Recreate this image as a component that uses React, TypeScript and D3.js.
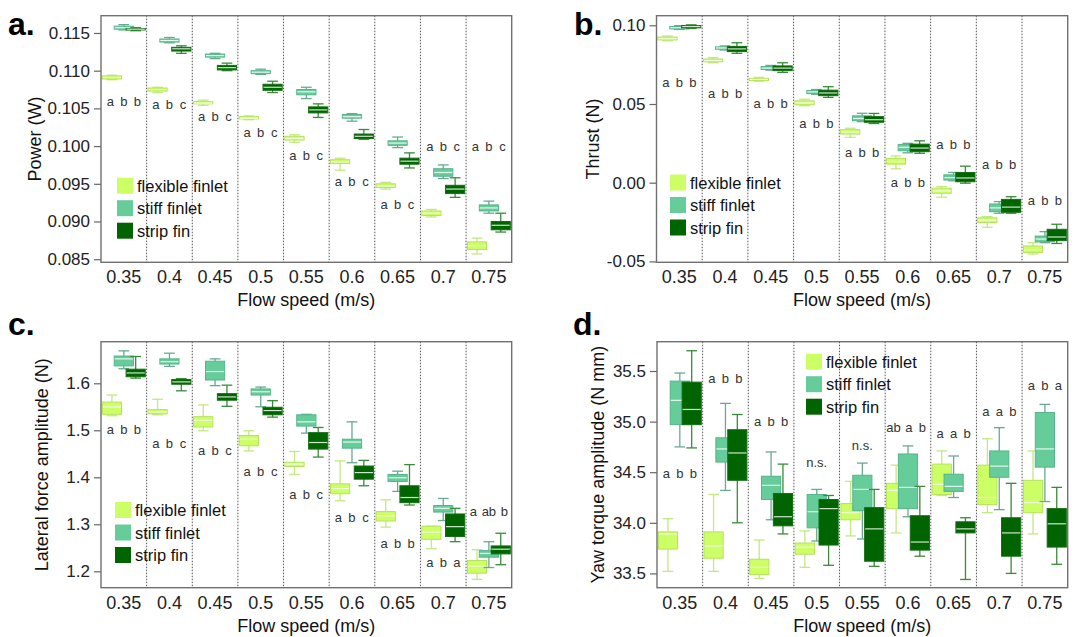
import * as d3 from "d3";
import { useEffect, useRef } from "react";

const speeds = ["0.35", "0.4", "0.45", "0.5", "0.55", "0.6", "0.65", "0.7", "0.75"];
const groups = ["flexible finlet", "stiff finlet", "strip fin"];
const fills = ["#ccff66", "#66cc99", "#006400"];
const borders = ["#b5e35a", "#55b48c", "#136f13"];
const whiskers = ["#c3e884", "#6aa894", "#3a8a3a"];
const medians = ["#f4ffe0", "#e6f7ee", "#cfe6cf"];

// each box: [low whisker, q1, median, q3, high whisker]
const powerFlexible = [
  [0.1088, 0.1089, 0.1091, 0.1093, 0.1094],
  [0.1071, 0.1073, 0.1075, 0.1077, 0.1078],
  [0.1054, 0.1056, 0.1057, 0.1059, 0.1061],
  [0.1035, 0.1036, 0.1037, 0.1039, 0.104],
  [0.1005, 0.1008, 0.101, 0.1013, 0.1015],
  [0.0968, 0.0977, 0.0979, 0.0982, 0.0984],
  [0.0943, 0.0945, 0.0947, 0.095, 0.0952],
  [0.0906, 0.0908, 0.0911, 0.0914, 0.0916],
  [0.0857, 0.0863, 0.0868, 0.0873, 0.0878],
];
const powerStiff = [
  [0.1154, 0.1155, 0.1157, 0.1159, 0.1161],
  [0.1137, 0.1138, 0.114, 0.1142, 0.1144],
  [0.1116, 0.1118, 0.112, 0.1122, 0.1123],
  [0.1095, 0.1096, 0.1098, 0.11, 0.1102],
  [0.1063, 0.1068, 0.1072, 0.1075, 0.1078],
  [0.1033, 0.1037, 0.1039, 0.1042, 0.1043],
  [0.0998, 0.1001, 0.1004, 0.1007, 0.1012],
  [0.0957, 0.096, 0.0965, 0.097, 0.0975],
  [0.0911, 0.0914, 0.0918, 0.0922, 0.0927],
];
const powerStrip = [
  [0.1153, 0.1154, 0.1155, 0.1156, 0.1157],
  [0.1123, 0.1126, 0.1129, 0.1131, 0.1133],
  [0.11, 0.1101, 0.1104, 0.1107, 0.111],
  [0.1071, 0.1074, 0.1078, 0.1082, 0.1086],
  [0.1038, 0.1044, 0.1048, 0.1052, 0.1056],
  [0.1009, 0.101, 0.1013, 0.1016, 0.1022],
  [0.0971, 0.0976, 0.098, 0.0984, 0.0991],
  [0.0932, 0.0937, 0.0943, 0.0948, 0.0958],
  [0.0886, 0.0889, 0.0895, 0.09, 0.0911],
];
const powerTicks = [0.085, 0.09, 0.095, 0.1, 0.105, 0.11, 0.115];
const powerLetters = ["a b b", "a b c", "a b c", "a b c", "a b c", "a b c", "a b c", "a b c", "a b c"];
const powerLetterY = [0.1059, 0.1055, 0.1039, 0.1018, 0.0987, 0.0953, 0.0922, 0.0999, 0.0999];

const thrustFlexible = [
  [0.0902, 0.0907, 0.0915, 0.0925, 0.0932],
  [0.0762, 0.0768, 0.0776, 0.0786, 0.0795],
  [0.0645, 0.0649, 0.0656, 0.0663, 0.0669],
  [0.0489, 0.0495, 0.0507, 0.052, 0.053],
  [0.0288, 0.0309, 0.0322, 0.0337, 0.0346],
  [0.0088, 0.0118, 0.0135, 0.0155, 0.017],
  [-0.0092, -0.0067, -0.0052, -0.0035, -0.0025],
  [-0.0283, -0.0253, -0.0238, -0.0223, -0.0215],
  [-0.0453, -0.0443, -0.0425, -0.0402, -0.0381],
];
const thrustStiff = [
  [0.0974, 0.0977, 0.0985, 0.0992, 0.0998],
  [0.0843, 0.0848, 0.0856, 0.0863, 0.0869],
  [0.0715, 0.0719, 0.0728, 0.0738, 0.0745],
  [0.0562, 0.0566, 0.0577, 0.0586, 0.0592],
  [0.0388, 0.0394, 0.0408, 0.0425, 0.0441],
  [0.019, 0.0203, 0.0225, 0.0243, 0.025],
  [0.0012, 0.0017, 0.0032, 0.005, 0.0065],
  [-0.0194, -0.0184, -0.016, -0.0135, -0.012],
  [-0.0381, -0.0375, -0.0358, -0.0339, -0.0311],
];
const thrustStrip = [
  [0.098, 0.0984, 0.0992, 0.0998, 0.1003],
  [0.0822, 0.0833, 0.085, 0.0866, 0.0889],
  [0.0701, 0.0712, 0.0728, 0.0742, 0.0762],
  [0.0542, 0.0553, 0.057, 0.0588, 0.061],
  [0.0376, 0.0384, 0.04, 0.042, 0.044],
  [0.0187, 0.0197, 0.022, 0.0245, 0.0266],
  [-0.0003, 0.0006, 0.003, 0.0065, 0.0105],
  [-0.0194, -0.0188, -0.0155, -0.0106, -0.0089],
  [-0.0386, -0.0368, -0.0345, -0.0296, -0.0264],
];
const thrustTicks = [-0.05, 0, 0.05, 0.1];
const thrustLetters = ["a b b", "a b b", "a b b", "a b b", "a b b", "a b b", "a b b", "a b b", "a b b"];
const thrustLetterY = [0.0635, 0.0568, 0.0504, 0.0377, 0.0191, 0.0, 0.0244, 0.0119, -0.011];

const lateralFlexible = [
  [1.531, 1.534, 1.55, 1.56, 1.575],
  [1.533, 1.535, 1.539, 1.544, 1.566],
  [1.499, 1.507, 1.521, 1.529, 1.554],
  [1.456, 1.467, 1.481, 1.489, 1.499],
  [1.406, 1.423, 1.428, 1.432, 1.455],
  [1.35, 1.365, 1.376, 1.386, 1.435],
  [1.294, 1.307, 1.318, 1.327, 1.352],
  [1.248, 1.268, 1.283, 1.296, 1.296],
  [1.183, 1.196, 1.211, 1.223, 1.246],
];
const lateralStiff = [
  [1.631, 1.637, 1.652, 1.658, 1.669],
  [1.636, 1.641, 1.646, 1.652, 1.664],
  [1.595, 1.607, 1.625, 1.647, 1.652],
  [1.55, 1.575, 1.582, 1.588, 1.592],
  [1.494, 1.509, 1.518, 1.533, 1.534],
  [1.431, 1.462, 1.475, 1.481, 1.518],
  [1.37, 1.391, 1.399, 1.406, 1.413],
  [1.308, 1.326, 1.334, 1.34, 1.355],
  [1.208, 1.23, 1.238, 1.244, 1.263],
];
const lateralStrip = [
  [1.611, 1.614, 1.622, 1.63, 1.657],
  [1.584, 1.598, 1.603, 1.608, 1.61],
  [1.551, 1.564, 1.571, 1.578, 1.596],
  [1.528, 1.533, 1.542, 1.549, 1.563],
  [1.443, 1.46, 1.474, 1.495, 1.506],
  [1.382, 1.396, 1.41, 1.424, 1.436],
  [1.341, 1.346, 1.357, 1.382, 1.427],
  [1.263, 1.274, 1.295, 1.322, 1.334],
  [1.214, 1.237, 1.247, 1.254, 1.281],
];
const lateralTicks = [1.2, 1.3, 1.4, 1.5, 1.6];
const lateralLetters = ["a b b", "a b c", "a b c", "a b c", "a b c", "a b c", "a b b", "a b a", "a ab b"];
const lateralLetterY = [1.501, 1.472, 1.457, 1.412, 1.364, 1.314, 1.26, 1.218, 1.328];

const yawFlexible = [
  [33.52, 33.74, 33.89, 33.91, 34.04],
  [33.52, 33.65, 33.77, 33.91, 34.28],
  [33.45, 33.49, 33.56, 33.64, 33.83],
  [33.56, 33.69, 33.76, 33.8, 33.92],
  [33.87, 34.03, 34.1, 34.19, 34.41],
  [33.9, 34.14, 34.32, 34.39, 34.57],
  [34.27, 34.28, 34.38, 34.58, 34.71],
  [34.1, 34.18, 34.25, 34.57, 34.83],
  [33.89, 34.1, 34.2, 34.42, 34.71],
];
const yawStiff = [
  [34.75, 34.97, 35.21, 35.4, 35.48],
  [34.32, 34.6, 34.73, 34.84, 35.18],
  [34.03, 34.23, 34.37, 34.46, 34.7],
  [33.82, 33.95, 34.11, 34.28, 34.33],
  [33.84, 34.12, 34.33, 34.47, 34.59],
  [34.06, 34.14, 34.35, 34.68, 34.76],
  [34.25, 34.31, 34.36, 34.48, 34.66],
  [34.13, 34.45, 34.56, 34.71, 34.94],
  [34.21, 34.55, 34.73, 35.09, 35.17],
];
const yawStrip = [
  [34.74, 34.97, 35.12, 35.39, 35.7],
  [34.0, 34.42, 34.69, 34.92, 35.07],
  [33.89, 33.97, 34.06, 34.29, 34.58],
  [33.58, 33.78, 34.14, 34.23, 34.27],
  [33.57, 33.62, 33.94, 34.15, 34.33],
  [33.67, 33.73, 33.81, 34.07, 34.36],
  [33.44, 33.9, 33.94, 34.01, 34.05],
  [33.5, 33.67, 33.9, 34.05, 34.39],
  [33.59, 33.76, 33.99, 34.14, 34.35],
];
const yawTicks = [33.5, 34.0, 34.5, 35.0, 35.5];
const yawLetters = ["a b b", "a b b", "a b b", "n.s.", "n.s.", "ab a b", "a a b", "a a b", "a b a"];
const yawLetterY = [34.49, 35.43, 35.0, 34.6, 34.76, 34.94, 34.88, 35.1, 35.36];

const FONT = "Liberation Sans, Arial, Helvetica, sans-serif";

const panels = [
  {
    tag: "a.", tagX: 8, tagY: 35, yLabel: "Power (W)", yLabelX: 35,
    series: [powerFlexible, powerStiff, powerStrip], ticks: powerTicks, fmt: ".3f",
    letters: powerLetters, letterY: powerLetterY, domain: [0.08459, 0.11729],
    frame: [101, 511.7, 15.7, 262.3], legend: [117, 185.7, 137],
  },
  {
    tag: "b.", tagX: 574, tagY: 35, yLabel: "Thrust (N)", yLabelX: 592.7,
    series: [thrustFlexible, thrustStiff, thrustStrip], ticks: thrustTicks, fmt: ".2f",
    letters: thrustLetters, letterY: thrustLetterY, domain: [-0.05057, 0.1061],
    frame: [656.5, 1067.7, 15.7, 262.3], legend: [670, 182.5, 690],
  },
  {
    tag: "c.", tagX: 8, tagY: 335, yLabel: "Lateral force amplitude (N)", yLabelX: 41.7,
    series: [lateralFlexible, lateralStiff, lateralStrip], ticks: lateralTicks, fmt: ".1f",
    letters: lateralLetters, letterY: lateralLetterY, domain: [1.1651, 1.6885],
    frame: [101, 511.7, 341.7, 587.7], legend: [115, 510, 135],
  },
  {
    tag: "d.", tagX: 573, tagY: 335, yLabel: "Yaw torque amplitude (N mm)", yLabelX: 597.7,
    series: [yawFlexible, yawStiff, yawStrip], ticks: yawTicks, fmt: ".1f",
    letters: yawLetters, letterY: yawLetterY, domain: [33.3587, 35.7895],
    frame: [657, 1067.7, 341.7, 587.7], legend: [806, 361.7, 826],
  },
];

function drawPanel(svg: any, p: any) {
  const [x0, x1, y0, y1] = p.frame;
  const x = d3.scaleBand().domain(speeds).range([x0, x1]).padding(0);
  const y = d3.scaleLinear().domain(p.domain).range([y1, y0]);
  const bw = x.bandwidth();
  const g = svg.append("g").style("font-family", FONT);

  // dotted separators between speeds
  g.selectAll(".sep")
    .data(speeds.slice(1))
    .enter()
    .append("line")
    .attr("x1", (d) => x(d))
    .attr("x2", (d) => x(d))
    .attr("y1", y0)
    .attr("y2", y1)
    .attr("stroke", "#555")
    .attr("stroke-width", 1)
    .attr("stroke-dasharray", "1.5,1.5");

  const format = d3.format(p.fmt);
  const yAxis = g
    .append("g")
    .attr("transform", "translate(" + x0 + ",0)")
    .call(
      d3.axisLeft(y).tickValues(p.ticks).tickSize(7).tickPadding(4)
        .tickFormat((d: any) => format(d).replace("\u2212", "-"))
    );
  yAxis.select(".domain").remove();
  yAxis.selectAll("line").attr("stroke", "#666").attr("stroke-width", 1.2);
  yAxis.selectAll("text").attr("fill", "#222").style("font-size", "17px").style("font-family", FONT);

  // x labels
  g.selectAll(".xl")
    .data(speeds)
    .enter()
    .append("text")
    .attr("x", (d) => x(d) + bw / 2)
    .attr("y", y1 + 21)
    .attr("text-anchor", "middle")
    .attr("fill", "#222")
    .style("font-size", "18px")
    .text((d) => d);

  g.append("text")
    .attr("x", (x0 + x1) / 2)
    .attr("y", y1 + 44)
    .attr("text-anchor", "middle")
    .attr("fill", "#111")
    .style("font-size", "18px")
    .text("Flow speed (m/s)");

  g.append("text")
    .attr("transform", "translate(" + p.yLabelX + "," + (y0 + y1) / 2 + ") rotate(-90)")
    .attr("text-anchor", "middle")
    .attr("dominant-baseline", "central")
    .attr("fill", "#111")
    .style("font-size", "18px")
    .text(p.yLabel);

  g.append("text")
    .attr("x", p.tagX)
    .attr("y", p.tagY)
    .attr("fill", "#000")
    .style("font-size", "32px")
    .style("font-weight", "bold")
    .text(p.tag);

  // boxes
  p.series.forEach((rows: number[][], gi: number) => {
    const w = bw * 0.42;
    const cx = (i: number) => x(speeds[i]) + bw * (0.5 + (gi - 1) * 0.26);
    const bg = g.append("g");
    const box = bg.selectAll(".b" + gi).data(rows).enter().append("g");
    box.append("line")
      .attr("x1", (d, i) => cx(i)).attr("x2", (d, i) => cx(i))
      .attr("y1", (d) => y(d[0])).attr("y2", (d) => y(d[4]))
      .attr("stroke", whiskers[gi]).attr("stroke-width", 1.3);
    [0, 4].forEach((k) => {
      box.append("line")
        .attr("x1", (d, i) => cx(i) - w * 0.28).attr("x2", (d, i) => cx(i) + w * 0.28)
        .attr("y1", (d) => y(d[k])).attr("y2", (d) => y(d[k]))
        .attr("stroke", whiskers[gi]).attr("stroke-width", 1.3);
    });
    box.append("rect")
      .attr("x", (d, i) => cx(i) - w / 2)
      .attr("width", w)
      .attr("y", (d) => y(d[3]))
      .attr("height", (d) => Math.max(1.5, y(d[1]) - y(d[3])))
      .attr("fill", fills[gi])
      .attr("stroke", borders[gi])
      .attr("stroke-width", 1);
    box.append("line")
      .attr("x1", (d, i) => cx(i) - w / 2 + 0.5).attr("x2", (d, i) => cx(i) + w / 2 - 0.5)
      .attr("y1", (d) => y(d[2])).attr("y2", (d) => y(d[2]))
      .attr("stroke", medians[gi]).attr("stroke-width", 1.2);
  });

  // significance letters: tokens spaced by their widths
  const charW = 13 * 0.56;
  p.letters.forEach((s: string, i: number) => {
    const parts = s.split(" ");
    const c = x(speeds[i]) + bw / 2;
    const pos = [0];
    for (let k = 1; k < parts.length; k++) {
      const gap = Math.max(13.5, ((parts[k - 1].length + parts[k].length) * charW) / 2 + 4.5);
      pos.push(pos[k - 1] + gap);
    }
    const mid = (pos[0] + pos[pos.length - 1]) / 2;
    parts.forEach((t, k) => {
      g.append("text")
        .attr("x", c + pos[k] - mid)
        .attr("y", y(p.letterY[i]))
        .attr("dy", "0.35em")
        .attr("text-anchor", "middle")
        .attr("fill", "#333")
        .style("font-size", "13px")
        .text(t);
    });
  });

  // legend
  const [lx, ly, tx] = p.legend;
  groups.forEach((name, gi) => {
    g.append("rect")
      .attr("x", lx).attr("y", ly + gi * 22.5 - 8)
      .attr("width", 16).attr("height", 16)
      .attr("fill", fills[gi]);
    g.append("text")
      .attr("x", tx).attr("y", ly + gi * 22.5)
      .attr("dominant-baseline", "central")
      .attr("fill", "#111")
      .style("font-size", "16.5px")
      .text(name);
  });

  // frame
  g.append("rect")
    .attr("x", x0).attr("y", y0)
    .attr("width", x1 - x0).attr("height", y1 - y0)
    .attr("fill", "none")
    .attr("stroke", "#707070")
    .attr("stroke-width", 1.4);
}

export default function App() {
  const ref = useRef<SVGSVGElement>(null);

  useEffect(() => {
    const svg = d3.select(ref.current);
    svg.selectAll("*").remove();
    panels.forEach((p) => drawPanel(svg, p));
  }, []);

  return (
    <svg
      ref={ref}
      width={1092}
      height={637}
      style={{ position: "absolute", left: 0, top: 0, background: "#fff" }}
    />
  );
}
